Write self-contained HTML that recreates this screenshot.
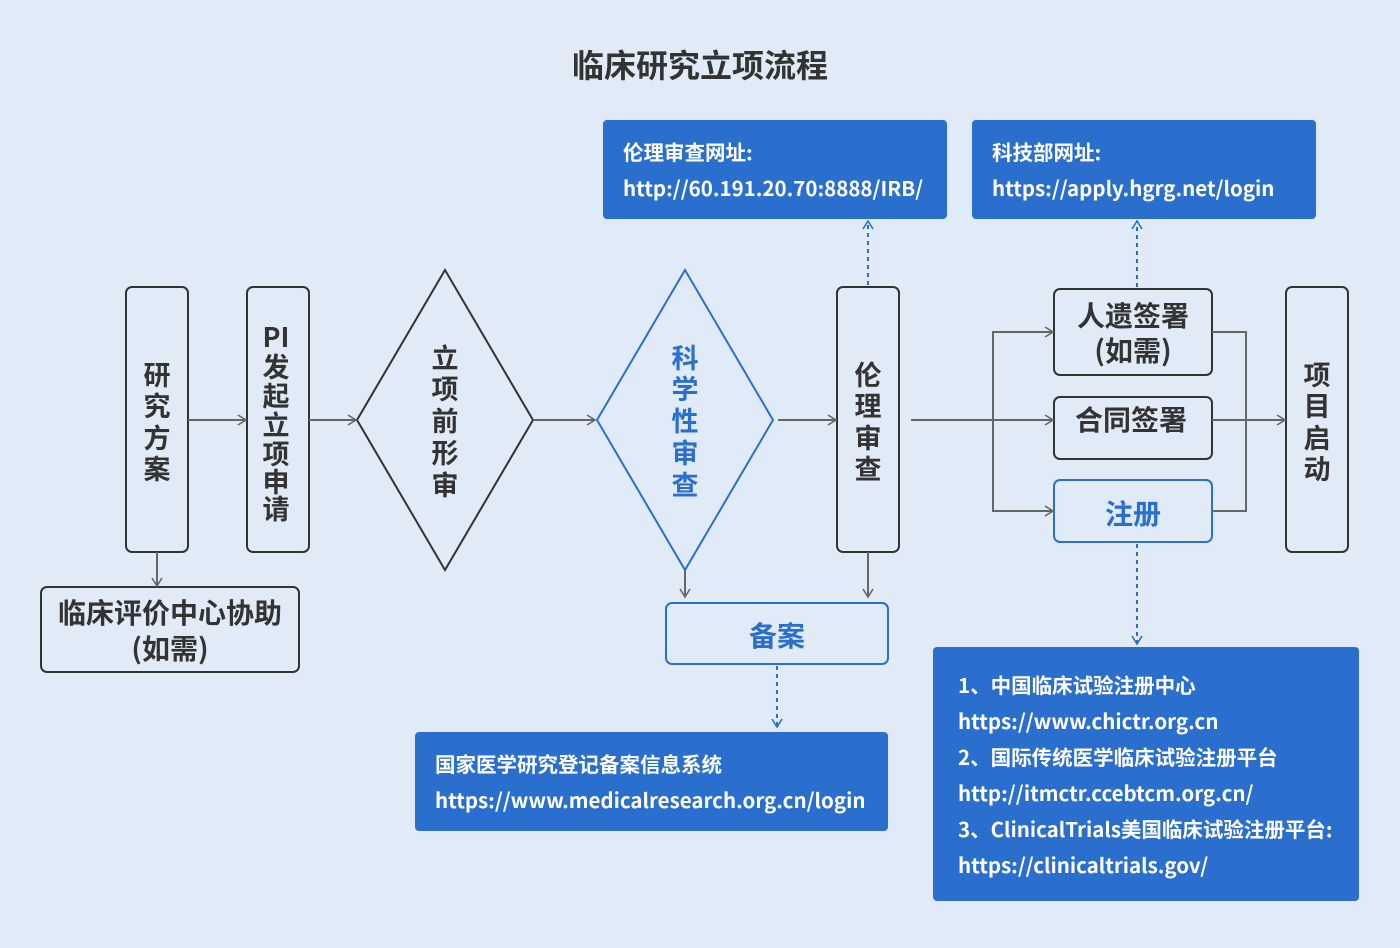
<!DOCTYPE html>
<html><head><meta charset="utf-8"><style>
html,body{margin:0;padding:0;background:#e1ebf8;}
svg{display:block;font-family:"Noto Sans CJK SC","Liberation Sans",sans-serif;font-weight:bold;}
</style></head><body>
<svg width="1400" height="948" viewBox="0 0 1400 948" xmlns="http://www.w3.org/2000/svg">
<defs>
<marker id="a" markerWidth="12" markerHeight="12" refX="10" refY="6" orient="auto" markerUnits="userSpaceOnUse"><path d="M2,1 L10,6 L2,11" fill="none" stroke="#666" stroke-width="1.6"/></marker>
<marker id="b" markerWidth="12" markerHeight="12" refX="10" refY="6" orient="auto" markerUnits="userSpaceOnUse"><path d="M2,1 L10,6 L2,11" fill="none" stroke="#2b6fce" stroke-width="1.6"/></marker>
</defs>
<rect width="1400" height="948" fill="#e1ebf8"/>
<text x="700" y="77" font-size="32" text-anchor="middle" fill="#333">临床研究立项流程</text>

<g fill="none" stroke="#333" stroke-width="2">
<rect x="126" y="287" width="62" height="265" rx="6"/>
<rect x="247" y="287" width="62" height="265" rx="6"/>
<polygon points="445,270 533,420 445,570 357,420"/>
<rect x="837" y="287" width="62" height="265" rx="6"/>
<rect x="1054" y="289" width="158" height="86" rx="6"/>
<rect x="1054" y="397" width="158" height="62" rx="6"/>
<rect x="1286" y="287" width="62" height="265" rx="6"/>
<rect x="41" y="587" width="258" height="85" rx="6"/>
</g>
<g fill="none" stroke="#2b6fce" stroke-width="2">
<polygon points="685,270 773,420 685,570 597,420"/>
<rect x="1054" y="480" width="158" height="62" rx="6"/>
<rect x="666" y="603" width="222" height="61" rx="6"/>
</g>

<g fill="none" stroke="#666" stroke-width="2">
<line x1="188" y1="420" x2="246" y2="420" marker-end="url(#a)"/>
<line x1="309" y1="420" x2="356" y2="420" marker-end="url(#a)"/>
<line x1="533" y1="420" x2="595" y2="420" marker-end="url(#a)"/>
<line x1="778" y1="420" x2="836" y2="420" marker-end="url(#a)"/>
<line x1="911" y1="420" x2="1053" y2="420" marker-end="url(#a)"/>
<polyline points="1053,332 993,332 993,511 1053,511"/>
<line x1="993" y1="332" x2="1053" y2="332" marker-end="url(#a)"/>
<line x1="993" y1="511" x2="1053" y2="511" marker-end="url(#a)"/>
<polyline points="1212,332 1246,332 1246,511 1212,511"/>
<line x1="1212" y1="420" x2="1285" y2="420" marker-end="url(#a)"/>
<line x1="157" y1="552" x2="157" y2="586" marker-end="url(#a)"/>
<line x1="685" y1="570" x2="685" y2="597" marker-end="url(#a)"/>
<line x1="868" y1="552" x2="868" y2="597" marker-end="url(#a)"/>
</g>
<g fill="none" stroke="#2b6fce" stroke-width="2" stroke-dasharray="4,4">
<line x1="777" y1="666" x2="777" y2="727" marker-end="url(#b)"/>
<line x1="868" y1="285" x2="868" y2="221" marker-end="url(#b)"/>
<line x1="1137" y1="287" x2="1137" y2="221" marker-end="url(#b)"/>
<line x1="1137" y1="544" x2="1137" y2="644" marker-end="url(#b)"/>
</g>

<g fill="#2b6fce">
<rect x="603" y="120" width="344" height="99" rx="4"/>
<rect x="972" y="120" width="344" height="99" rx="4"/>
<rect x="415" y="732" width="473" height="99" rx="4"/>
<rect x="933" y="647" width="426" height="254" rx="4"/>
</g>

<g font-size="27" fill="#333" text-anchor="middle">
<text x="157" y="385">研</text><text x="157" y="416">究</text><text x="157" y="448">方</text><text x="157" y="479">案</text>
<text x="276" y="347">PI</text><text x="276" y="377">发</text><text x="276" y="406">起</text><text x="276" y="435">立</text><text x="276" y="464">项</text><text x="276" y="492">申</text><text x="276" y="519">请</text>
<text x="445" y="368">立</text><text x="445" y="399">项</text><text x="445" y="431">前</text><text x="445" y="463">形</text><text x="445" y="495">审</text>
<text x="868" y="385">伦</text><text x="868" y="416">理</text><text x="868" y="448">审</text><text x="868" y="479">查</text>
<text x="1317" y="385">项</text><text x="1317" y="416">目</text><text x="1317" y="448">启</text><text x="1317" y="479">动</text>
</g>
<g font-size="28" fill="#333" text-anchor="middle">
<text x="1133" y="326">人遗签署</text><text x="1133" y="361">(如需)</text>
<text x="1131" y="430">合同签署</text>
<text x="170" y="623">临床评价中心协助</text><text x="170" y="659">(如需)</text>
</g>
<g font-size="27" fill="#2b6fce" text-anchor="middle">
<text x="685" y="368">科</text><text x="685" y="399">学</text><text x="685" y="431">性</text><text x="685" y="463">审</text><text x="685" y="495">查</text>
</g>
<g font-size="28" fill="#2b6fce" text-anchor="middle">
<text x="1133" y="524">注册</text>
<text x="777" y="646">备案</text>
</g>
<g font-size="20.5" fill="#fff">
<text x="623" y="160">伦理审查网址:</text>
<text x="623" y="196">http://60.191.20.70:8888/IRB/</text>
<text x="992" y="160">科技部网址:</text>
<text x="992" y="196">https://apply.hgrg.net/login</text>
<text x="435" y="772">国家医学研究登记备案信息系统</text>
<text x="435" y="808">https://www.medicalresearch.org.cn/login</text>
<text x="958" y="693">1、中国临床试验注册中心</text>
<text x="958" y="729">https://www.chictr.org.cn</text>
<text x="958" y="765">2、国际传统医学临床试验注册平台</text>
<text x="958" y="801">http://itmctr.ccebtcm.org.cn/</text>
<text x="958" y="837">3、ClinicalTrials美国临床试验注册平台:</text>
<text x="958" y="873">https://clinicaltrials.gov/</text>
</g>
</svg>
</body></html>
